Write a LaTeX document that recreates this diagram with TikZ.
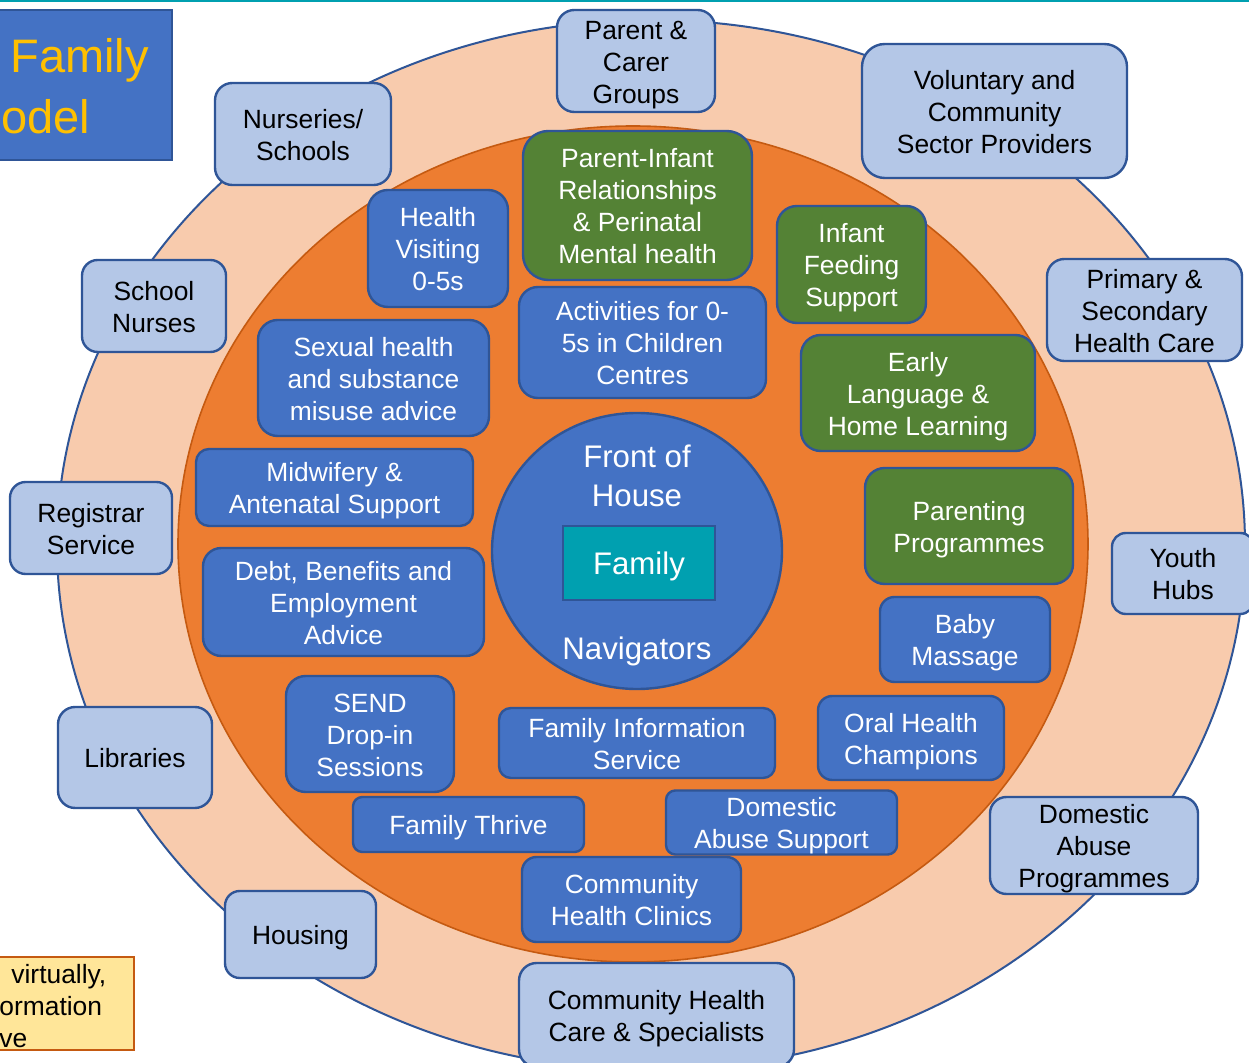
\documentclass[tikz,border=0pt]{standalone}
\usepackage{fontspec}
\setmainfont{Liberation Sans}
\usetikzlibrary{shapes.geometric}
\definecolor{peach}{HTML}{F8CBAD}
\definecolor{edgeblue}{HTML}{2F5597}
\definecolor{orangeA}{HTML}{ED7D31}
\definecolor{orangeEdge}{HTML}{C55A11}
\definecolor{midblue}{HTML}{4472C4}
\definecolor{leafgreen}{HTML}{548235}
\definecolor{paleblue}{HTML}{B4C7E7}
\definecolor{tealA}{HTML}{00A0B0}
\definecolor{goldA}{HTML}{FFC000}
\definecolor{paleyellow}{HTML}{FFE699}
\newcommand\tstrut{\rule[-2.8pt]{0pt}{16pt}}
\newcommand\bstrut{\rule[-3.4pt]{0pt}{18pt}}
\tikzset{
  basebox/.style={line width=1.2pt, draw=edgeblue, align=center, inner sep=0pt,
    font=\fontsize{13.2}{16}\selectfont},
  outerbox/.style={basebox, fill=paleblue, text=black},
  bluebox/.style={basebox, fill=midblue, text=white},
  greenbox/.style={basebox, fill=leafgreen, text=white},
  bigtext/.style={font=\fontsize{15.6}{19.5}\selectfont, text=white, align=center, inner sep=0pt},
  notetext/.style={anchor=west, font=\fontsize{13.2}{16}\selectfont, inner sep=0pt},
}
\newcommand\placebox[7]{%
  \pgfmathsetmacro\bw{(#5-#3)*0.5}%
  \pgfmathsetmacro\bh{(#6-#4)*0.5}%
  \pgfmathsetmacro\br{min(\bw,\bh)*0.17}%
  \node[#1, minimum width=\bw pt, minimum height=\bh pt, rounded corners=\br pt]
    (#2) at ({(#3+#5)/2},{(#4+#6)/2}) {\tstrut#7\tstrut};%
}
\begin{document}
\begin{tikzpicture}[x=0.5pt, y=-0.5pt]
\useasboundingbox[fill=white] (0,0) rectangle (1249,1063);
\draw[tealA, line width=1pt] (0,1) -- (1249,1);

% rings
\node[ellipse, fill=peach, draw=edgeblue, line width=1pt, minimum width=594pt, minimum height=525pt, inner sep=0pt] (outerring) at (651,545) {};
\node[ellipse, fill=orangeA, draw=orangeEdge, line width=0.8pt, minimum width=455pt, minimum height=418pt, inner sep=0pt] (innerring) at (633,544) {};

% title box
\node[draw=edgeblue, fill=midblue, line width=1.2pt, minimum width=91pt, minimum height=75pt, inner sep=0pt] (titlebox) at (81,85) {};
\node[anchor=west, text=goldA, font=\fontsize{23.5}{29}\selectfont, inner sep=0pt] (title1) at (10,60) {Family};
\node[anchor=west, text=goldA, font=\fontsize{23.5}{29}\selectfont, inner sep=0pt] (title2) at (1,117) {odel};

% note box
\node[draw=orangeEdge, fill=paleyellow, line width=1.2pt, minimum width=72pt, minimum height=46.5pt, inner sep=0pt] (notebox) at (62,1003.5) {};
\node[notetext] (note1) at (11,973) {\tstrut virtually,\tstrut};
\node[notetext] (note2) at (-1,1005) {\tstrut ormation\tstrut};
\node[notetext] (note3) at (-1,1037) {\tstrut ve\tstrut};

% outer ring boxes
\placebox{outerbox}{pcg}{557}{10}{715}{112}{Parent \&\\Carer\\Groups}
\placebox{outerbox}{vcs}{862}{44}{1127}{178}{Voluntary and\\Community\\Sector Providers}
\placebox{outerbox}{nur}{215}{83}{391}{185}{Nurseries/\\Schools}
\placebox{outerbox}{sn}{82}{260}{226}{352}{School\\Nurses}
\placebox{outerbox}{psh}{1047}{259}{1242}{361}{Primary \&\\Secondary\\Health Care}
\placebox{outerbox}{reg}{10}{482}{172}{574}{Registrar\\Service}
\placebox{outerbox}{yh}{1112}{533}{1254}{614}{Youth\\Hubs}
\placebox{outerbox}{lib}{58}{707}{212}{808}{Libraries}
\placebox{outerbox}{dap}{990}{797}{1198}{894}{Domestic\\Abuse\\Programmes}
\placebox{outerbox}{hous}{225}{891}{376}{978}{Housing}
\placebox{outerbox}{chcs}{519}{963}{794}{1067}{Community Health\\Care \& Specialists}

% inner ring boxes
\placebox{greenbox}{pir}{523}{131}{752}{280}{Parent-Infant\\Relationships\\\& Perinatal\\Mental health}
\placebox{bluebox}{hv}{368}{190}{508}{307}{Health\\Visiting\\0-5s}
\placebox{greenbox}{ifs}{777}{206}{926}{323}{Infant\\Feeding\\Support}
\placebox{bluebox}{act}{519}{287}{766}{398}{Activities for 0-\\5s in Children\\Centres}
\placebox{bluebox}{sex}{258}{320}{489}{436}{Sexual health\\and substance\\misuse advice}
\placebox{greenbox}{ell}{801}{335}{1035}{451}{Early\\Language \&\\Home Learning}
\placebox{bluebox}{mid}{196}{449}{473}{526}{Midwifery \&\\Antenatal Support}
\placebox{greenbox}{par}{865}{468}{1073}{584}{Parenting\\Programmes}
\placebox{bluebox}{debt}{203}{548}{484}{656}{Debt, Benefits and\\Employment\\Advice}
\placebox{bluebox}{baby}{880}{597}{1050}{682}{Baby\\Massage}
\placebox{bluebox}{send}{286}{676}{454}{792}{SEND\\Drop-in\\Sessions}
\placebox{bluebox}{fis}{499}{708}{775}{778}{Family Information\\Service}
\placebox{bluebox}{oral}{818}{696}{1004}{780}{Oral Health\\Champions}
\placebox{bluebox}{thrive}{353}{797}{584}{852}{Family Thrive}
\placebox{bluebox}{das}{666}{795}{897}{850}{Domestic\\Abuse Support}
\placebox{bluebox}{chc}{522}{857}{741}{942}{Community\\Health Clinics}

% centre
\node[ellipse, fill=midblue, draw=edgeblue, line width=1.2pt, minimum width=145pt, minimum height=138pt, inner sep=0pt] (hub) at (637,551) {};
\node[bigtext] (front) at (637,476) {Front of\\House};
\node[draw=edgeblue, fill=tealA, line width=1.2pt, minimum width=76pt, minimum height=37pt, inner sep=0pt, font=\fontsize{15.6}{19.5}\selectfont, text=white] (family) at (639,563) {\bstrut Family\bstrut};
\node[bigtext] (nav) at (637,648) {\bstrut Navigators\bstrut};
\end{tikzpicture}
\end{document}
